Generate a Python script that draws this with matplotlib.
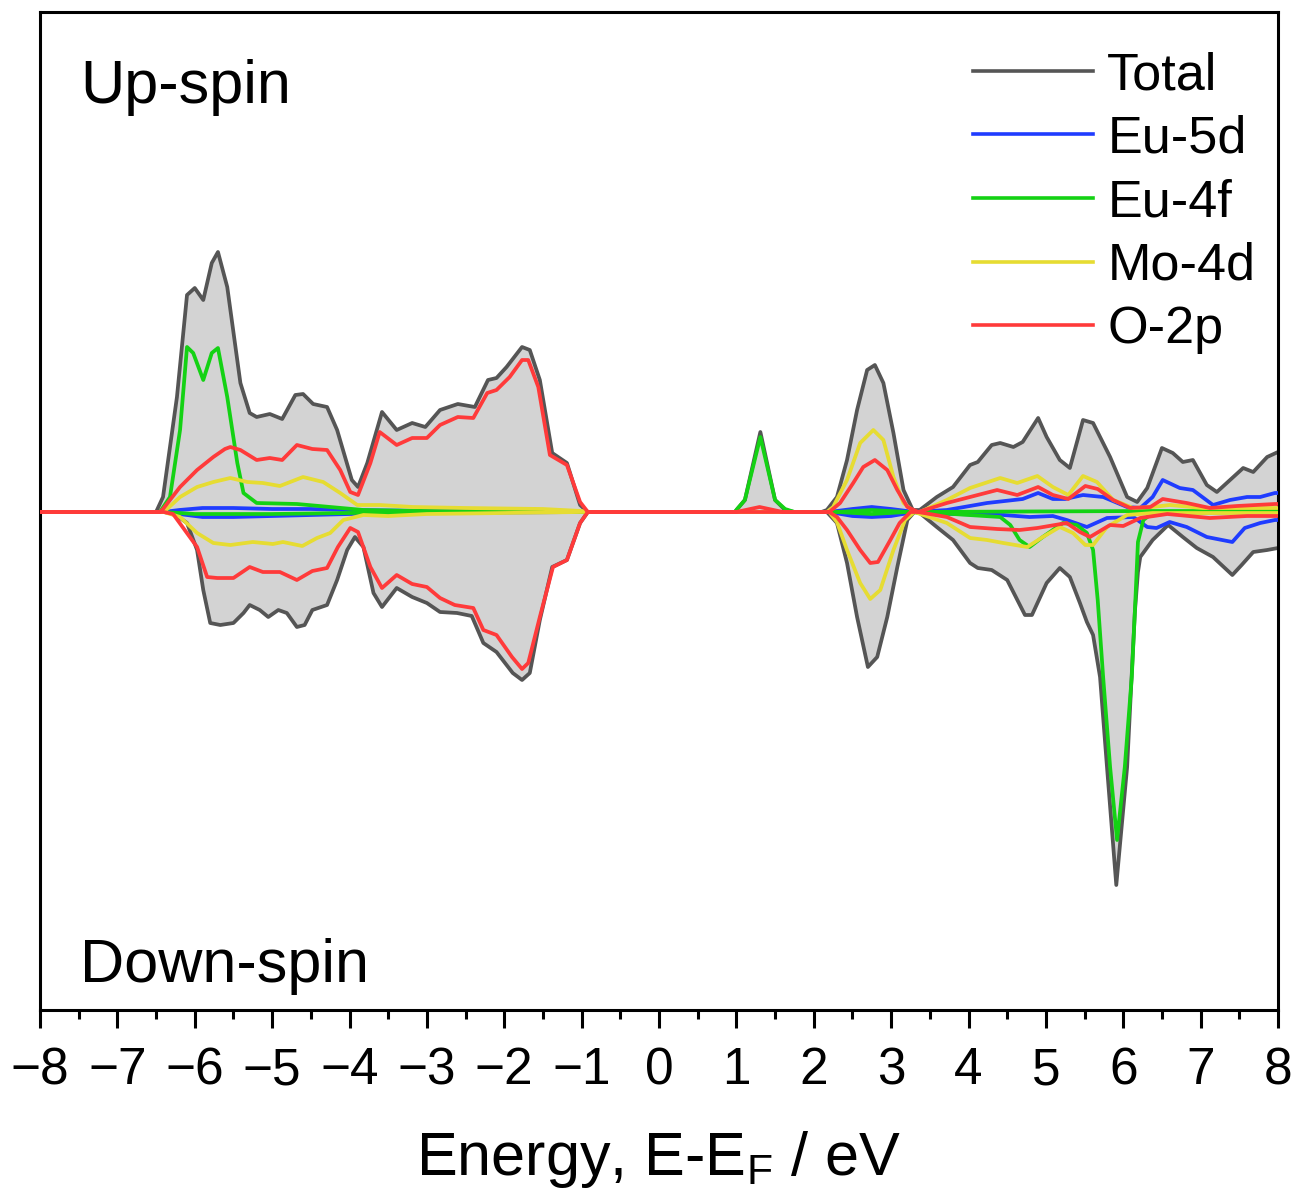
import matplotlib
matplotlib.use("Agg")
import matplotlib.pyplot as plt
from matplotlib.ticker import MultipleLocator

plt.rcParams['font.family'] = ['Liberation Sans', 'DejaVu Sans']
plt.rcParams['mathtext.fontset'] = 'custom'
plt.rcParams['mathtext.rm'] = 'Liberation Sans'
plt.rcParams['mathtext.it'] = 'Liberation Sans'

# ---------------- data (energy in eV, DOS in arbitrary units) ----------------
total_up_E = [-8, -6.5, -6.41, -6.23, -6.10, -6.00, -5.89, -5.78, -5.70, -5.58, -5.41, -5.29, -5.20, -5.03, -4.87,
              -4.70, -4.60, -4.47, -4.29, -4.16, -3.97, -3.89, -3.77, -3.58, -3.39, -3.19, -3.02, -2.83, -2.60,
              -2.38, -2.21, -2.10, -1.97, -1.77, -1.67, -1.54, -1.38, -1.19, -1.02, -0.92, 0.98, 1.11, 1.31, 1.50,
              1.63, 1.75, 2.10, 2.17, 2.30, 2.43, 2.56, 2.69, 2.79, 2.90, 3.03, 3.16, 3.28, 3.37, 3.59, 3.80, 4.02,
              4.12, 4.30, 4.41, 4.58, 4.70, 4.90, 5.01, 5.18, 5.31, 5.48, 5.61, 5.83, 6.05, 6.18, 6.31, 6.50, 6.64,
              6.77, 6.90, 7.08, 7.21, 7.38, 7.55, 7.68, 7.86, 8.0]
total_up = [0, 0, 0.15, 1.15, 2.17, 2.24, 2.12, 2.49, 2.60, 2.25, 1.29, 0.99, 0.95, 0.98, 0.93,
            1.17, 1.18, 1.08, 1.05, 0.82, 0.32, 0.25, 0.49, 1.00, 0.82, 0.89, 0.85, 1.02, 1.08,
            1.05, 1.32, 1.34, 1.45, 1.65, 1.62, 1.32, 0.59, 0.49, 0.07, 0, 0, 0.12, 0.80, 0.12,
            0.02, 0, 0, 0.02, 0.15, 0.52, 1.02, 1.42, 1.47, 1.29, 0.79, 0.22, 0.02, 0.02, 0.15, 0.25, 0.47,
            0.50, 0.67, 0.69, 0.65, 0.70, 0.94, 0.75, 0.52, 0.44, 0.92, 0.89, 0.55, 0.15, 0.10, 0.24, 0.64, 0.59,
            0.50, 0.52, 0.27, 0.20, 0.32, 0.44, 0.40, 0.55, 0.60]

total_dn_E = [-8, -6.4, -6.28, -6.10, -5.97, -5.89, -5.80, -5.67, -5.50, -5.37, -5.29, -5.16, -5.05, -4.92, -4.81,
              -4.68, -4.58, -4.48, -4.29, -4.16, -4.03, -3.93, -3.82, -3.69, -3.58, -3.39, -3.19, -3.00, -2.83,
              -2.61, -2.42, -2.27, -2.10, -1.89, -1.77, -1.67, -1.54, -1.38, -1.19, -1.02, -0.92, 2.17, 2.30, 2.43,
              2.56, 2.70, 2.82, 2.95, 3.08, 3.21, 3.30, 3.37, 3.59, 3.80, 4.02, 4.12, 4.30, 4.50, 4.73, 4.82, 5.01,
              5.18, 5.31, 5.44, 5.53, 5.61, 5.70, 5.79, 5.91, 6.05, 6.15, 6.19, 6.22, 6.38, 6.58, 6.77, 6.95, 7.16,
              7.41, 7.53, 7.68, 7.86, 8.0]
total_dn = [0, 0, -0.01, -0.11, -0.38, -0.78, -1.11, -1.13, -1.11, -1.01, -0.93, -0.98, -1.05, -0.98, -1.01,
            -1.15, -1.13, -0.98, -0.93, -0.68, -0.38, -0.25, -0.35, -0.81, -0.95, -0.76, -0.85, -0.91, -1.00,
            -1.01, -1.04, -1.31, -1.40, -1.61, -1.68, -1.61, -1.08, -0.55, -0.48, -0.11, 0, 0, -0.11, -0.51,
            -1.05, -1.55, -1.45, -1.05, -0.55, -0.08, 0, -0.01, -0.15, -0.28, -0.51, -0.56, -0.58, -0.68, -1.03, -1.03, -0.71,
            -0.56, -0.65, -0.91, -1.10, -1.23, -1.65, -2.55, -3.73, -2.55, -1.00, -0.60, -0.45, -0.28, -0.13, -0.25, -0.36, -0.45,
            -0.63, -0.53, -0.40, -0.38, -0.36]

eu5d_up_E = [-8, -6.4, -6.2, -5.9, -5.5, -5.0, -4.5, -4.0, -3.0, -2.0, -1.0, 2.2, 2.5, 2.75, 3.0, 3.3, 3.72, 4.24,
             4.70, 4.90, 5.09, 5.25, 5.48, 5.74, 6.05, 6.22, 6.38, 6.51, 6.73, 6.90, 7.16, 7.38, 7.60, 7.77, 7.96, 8.0]
eu5d_up = [0, 0, 0.02, 0.04, 0.04, 0.03, 0.03, 0.02, 0.01, 0.01, 0, 0, 0.03, 0.05, 0.03, 0, 0.02, 0.09,
           0.13, 0.19, 0.13, 0.13, 0.17, 0.15, 0.05, 0.04, 0.15, 0.32, 0.24, 0.22, 0.07, 0.12, 0.15, 0.15, 0.19, 0.19]
eu5d_dn_E = [-8, -6.4, -6.2, -5.9, -5.5, -5.0, -4.5, -4.0, -3.0, -1.0, 2.2, 2.5, 2.75, 3.0, 3.3, 3.8, 4.45, 4.79,
             5.09, 5.27, 5.53, 5.79, 6.13, 6.31, 6.43, 6.60, 6.82, 7.08, 7.41, 7.57, 7.77, 7.96, 8.0]
eu5d_dn = [0, 0, -0.02, -0.05, -0.05, -0.04, -0.03, -0.02, -0.01, 0, 0, -0.04, -0.05, -0.04, 0, -0.02, -0.03, -0.05,
           -0.04, -0.08, -0.15, -0.06, -0.05, -0.15, -0.16, -0.10, -0.15, -0.25, -0.30, -0.16, -0.11, -0.08, -0.08]

eu4f_up_E = [-8, -6.45, -6.32, -6.19, -6.10, -6.02, -5.89, -5.78, -5.70, -5.58, -5.45, -5.37, -5.20, -4.68, -4.25,
             -3.82, -3.0, -1.0, 0.98, 1.01, 1.11, 1.31, 1.50, 1.63, 1.75, 2.3, 2.75, 3.2, 6.3, 8.0]
eu4f_up = [0, 0, 0.15, 0.82, 1.65, 1.59, 1.32, 1.59, 1.64, 1.15, 0.49, 0.19, 0.09, 0.08, 0.05,
           0.02, 0.01, 0, 0, 0.03, 0.12, 0.75, 0.12, 0.03, 0, 0, 0.02, 0, 0.01, 0.01]
eu4f_dn_E = [-8, -6.4, -6.0, -5.0, -4.0, -3.0, 2.3, 2.75, 3.2, 3.8, 4.41, 4.54, 4.66, 4.79, 4.96, 5.22, 5.40, 5.53,
             5.61, 5.67, 5.74, 5.83, 5.92, 6.02, 6.11, 6.15, 6.19, 6.26, 6.38, 8.0]
eu4f_dn = [0, 0, -0.02, -0.02, -0.01, 0, 0, -0.02, 0, -0.02, -0.05, -0.13, -0.28, -0.35, -0.25, -0.11, -0.13, -0.21,
           -0.38, -0.88, -1.65, -2.55, -3.28, -2.55, -1.65, -1.00, -0.30, -0.08, -0.01, 0]

mo4d_up_E = [-8, -6.4, -6.19, -5.97, -5.76, -5.54, -5.32, -5.12, -4.90, -4.60, -4.34, -4.12, -3.90, -3.61, -3.18,
             -2.5, -1.5, -1.0, -0.9, 2.17, 2.25, 2.43, 2.60, 2.77, 2.90, 3.03, 3.16, 3.3, 3.37, 3.72, 4.02, 4.41,
             4.63, 4.89, 5.09, 5.29, 5.48, 5.66, 5.87, 6.13, 6.38, 6.60, 7.03, 8.0]
mo4d_up = [0, 0, 0.15, 0.25, 0.30, 0.34, 0.30, 0.29, 0.26, 0.35, 0.30, 0.19, 0.07, 0.07, 0.05,
           0.04, 0.03, 0.01, 0, 0, 0.05, 0.32, 0.69, 0.82, 0.72, 0.35, 0.09, 0, 0, 0.12, 0.24, 0.34,
           0.29, 0.36, 0.25, 0.17, 0.36, 0.30, 0.12, 0.04, 0.05, 0.07, 0.04, 0.04]
mo4d_dn_E = [-8, -6.4, -6.19, -5.97, -5.76, -5.54, -5.25, -4.99, -4.86, -4.61, -4.42, -4.25, -4.08, -3.82, -3.5,
             -3.0, -1.0, 2.2, 2.30, 2.43, 2.60, 2.73, 2.86, 3.03, 3.18, 3.3, 3.72, 4.02, 4.24, 4.45, 4.76, 4.96,
             5.18, 5.35, 5.51, 5.61, 5.79, 6.05, 6.38, 8.0]
mo4d_dn = [0, 0, -0.05, -0.21, -0.31, -0.33, -0.30, -0.32, -0.30, -0.34, -0.26, -0.21, -0.08, -0.03, -0.04,
           -0.02, 0, 0, -0.10, -0.38, -0.71, -0.87, -0.78, -0.38, -0.08, 0, -0.11, -0.26, -0.28, -0.31, -0.35, -0.25,
           -0.15, -0.21, -0.33, -0.33, -0.15, -0.03, -0.01, -0.01]

o2p_up_E = [-8, -6.45, -6.41, -6.19, -5.97, -5.76, -5.61, -5.54, -5.41, -5.20, -5.03, -4.87, -4.68, -4.48, -4.29,
            -4.12, -3.99, -3.89, -3.73, -3.61, -3.39, -3.19, -3.00, -2.83, -2.60, -2.40, -2.22, -2.10, -1.93, -1.77,
            -1.69, -1.56, -1.41, -1.19, -1.02, -0.92, 1.0, 1.3, 1.6, 2.2, 2.34, 2.51, 2.64, 2.79, 2.95, 3.08, 3.21,
            3.35, 3.72, 4.02, 4.37, 4.63, 4.90, 5.09, 5.29, 5.51, 5.67, 5.87, 6.09, 6.35, 6.51, 6.82, 7.12, 7.47,
            7.96, 8.0]
o2p_up = [0, 0, 0.03, 0.25, 0.42, 0.55, 0.63, 0.65, 0.62, 0.52, 0.54, 0.52, 0.67, 0.63, 0.62,
          0.42, 0.20, 0.17, 0.49, 0.80, 0.67, 0.74, 0.74, 0.87, 0.95, 0.94, 1.19, 1.22, 1.35, 1.52,
          1.52, 1.25, 0.57, 0.47, 0.10, 0, 0, 0.05, 0, 0, 0.09, 0.29, 0.45, 0.52, 0.42, 0.22, 0.05,
          0, 0.09, 0.15, 0.22, 0.17, 0.25, 0.17, 0.13, 0.26, 0.23, 0.12, 0.04, 0.05, 0.13, 0.09, 0.04, 0.06,
          0.08, 0.08]
o2p_dn_E = [-8, -6.4, -6.28, -5.97, -5.84, -5.71, -5.50, -5.29, -5.12, -4.90, -4.68, -4.48, -4.29, -4.15, -3.99,
            -3.89, -3.73, -3.58, -3.39, -3.19, -3.00, -2.83, -2.64, -2.40, -2.27, -2.10, -1.90, -1.77, -1.69, -1.54,
            -1.37, -1.19, -1.02, -0.92, 2.2, 2.30, 2.43, 2.60, 2.73, 2.83, 2.99, 3.11, 3.25, 3.35, 3.72, 4.02,
            4.37, 4.66, 4.89, 5.27, 5.44, 5.57, 5.83, 6.00, 6.22, 6.57, 7.12, 7.6, 8.0]
o2p_dn = [0, 0, -0.02, -0.35, -0.65, -0.66, -0.66, -0.55, -0.60, -0.60, -0.68, -0.59, -0.56, -0.35, -0.16,
          -0.20, -0.55, -0.76, -0.63, -0.72, -0.75, -0.86, -0.93, -0.96, -1.18, -1.23, -1.45, -1.57, -1.51, -1.05,
          -0.55, -0.48, -0.11, 0, 0, -0.05, -0.18, -0.38, -0.51, -0.50, -0.28, -0.11, 0, 0, -0.05, -0.15,
          -0.17, -0.18, -0.16, -0.11, -0.20, -0.25, -0.13, -0.14, -0.06, -0.02, -0.06, -0.04, -0.04]

labels = ['Total', 'Eu-5d', 'Eu-4f', 'Mo-4d', 'O-2p']
colors = ['#555555', '#1f3cff', '#14d214', '#e6dc32', '#ff3a3a']

# ---------------- figure ----------------
fig = plt.figure(figsize=(12.96, 11.94), dpi=100)
ax = fig.add_axes([40 / 1296, 1 - 1010 / 1194, 1238 / 1296, 998 / 1194])

lw = 2.7
ax.fill_between(total_up_E, 0, total_up, color='#d3d3d3', lw=0, zorder=1)
ax.fill_between(total_dn_E, 0, total_dn, color='#d3d3d3', lw=0, zorder=1)
ax.plot(total_up_E, total_up, color=colors[0], lw=lw, label=labels[0], zorder=2)
ax.plot(total_dn_E, total_dn, color=colors[0], lw=lw, zorder=2)

ax.plot(eu5d_up_E, eu5d_up, color=colors[1], lw=lw, label=labels[1], zorder=3)
ax.plot(eu5d_dn_E, eu5d_dn, color=colors[1], lw=lw, zorder=3)
ax.plot(eu4f_up_E, eu4f_up, color=colors[2], lw=lw, label=labels[2], zorder=4)
ax.plot(eu4f_dn_E, eu4f_dn, color=colors[2], lw=lw, zorder=4)
ax.plot(mo4d_up_E, mo4d_up, color=colors[3], lw=lw, label=labels[3], zorder=5)
ax.plot(mo4d_dn_E, mo4d_dn, color=colors[3], lw=lw, zorder=5)
ax.plot(o2p_up_E, o2p_up, color=colors[4], lw=lw, label=labels[4], zorder=6)
ax.plot(o2p_dn_E, o2p_dn, color=colors[4], lw=lw, zorder=6)

ax.set_xlim(-8, 8)
ax.set_ylim(-4.98, 5.0)
ax.set_yticks([])
ax.xaxis.set_major_locator(MultipleLocator(1))
ax.xaxis.set_minor_locator(MultipleLocator(0.5))
ax.tick_params(axis='x', which='major', direction='out', length=13, width=2.2,
               labelsize=37, pad=13)
ax.tick_params(axis='x', which='minor', direction='out', length=6.5, width=2.2)
for sp in ax.spines.values():
    sp.set_linewidth(2.2)

leg = ax.legend(loc='upper left', bbox_to_anchor=(973 / 1296, 1 - 51 / 1194),
                bbox_transform=fig.transFigure, frameon=False, fontsize=37.5,
                handlelength=2.3, handletextpad=0.28, labelspacing=0.28, borderpad=0,
                borderaxespad=0)
for line in leg.get_lines():
    line.set_linewidth(2.6)

fig.text(80 / 1296, 1 - 103 / 1194, 'Up-spin', fontsize=44, va='baseline', ha='left')
fig.text(80 / 1296, 1 - 982 / 1194, 'Down-spin', fontsize=44, va='baseline', ha='left')
fig.text(659 / 1296, 1 - 1175 / 1194, r'Energy, E-E$_\mathregular{F}$ / eV', fontsize=44,
         va='baseline', ha='center')

fig.savefig('out.png', dpi=100)
